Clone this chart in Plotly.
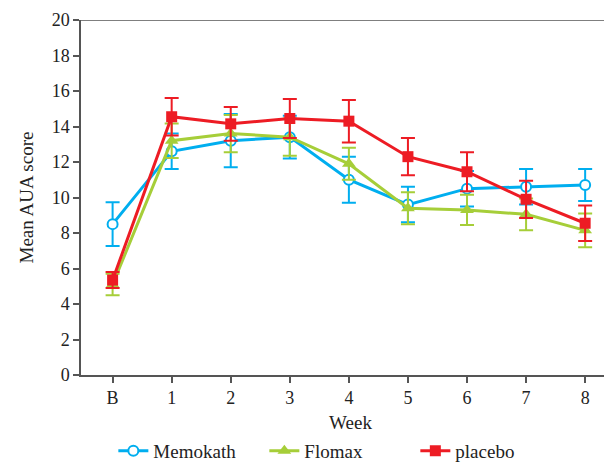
import plotly.graph_objects as go

weeks = ["B", "1", "2", "3", "4", "5", "6", "7", "8"]
xpos = list(range(len(weeks)))

memokath = [8.5, 12.6, 13.2, 13.4, 11.0, 9.6, 10.5, 10.6, 10.7]
memokath_err = [1.23, 1.0, 1.5, 1.2, 1.3, 1.0, 1.0, 1.0, 0.9]

flomax = [5.1, 13.2, 13.6, 13.4, 11.9, 9.4, 9.3, 9.05, 8.15]
flomax_err = [0.6, 0.97, 1.05, 1.05, 0.9, 0.9, 0.85, 0.9, 0.95]

placebo = [5.35, 14.55, 14.15, 14.45, 14.3, 12.3, 11.45, 9.9, 8.55]
placebo_err = [0.45, 1.05, 0.95, 1.1, 1.2, 1.05, 1.1, 1.05, 1.0]

BLUE = "#00AEEF"
GREEN = "#A6CE39"
RED = "#ED1C24"
FONT = "Liberation Serif"

fig = go.Figure()

fig.add_trace(go.Scatter(
    x=xpos, y=memokath, name="Memokath", mode="lines+markers",
    line=dict(color=BLUE, width=3),
    marker=dict(symbol="circle", size=10, color="white", line=dict(color=BLUE, width=2)),
    error_y=dict(type="data", array=memokath_err, color=BLUE, thickness=2, width=7),
))
fig.add_trace(go.Scatter(
    x=xpos, y=flomax, name="Flomax", mode="lines+markers",
    line=dict(color=GREEN, width=3),
    marker=dict(symbol="triangle-up", size=12, color=GREEN),
    error_y=dict(type="data", array=flomax_err, color=GREEN, thickness=2, width=7),
))
fig.add_trace(go.Scatter(
    x=xpos, y=placebo, name="placebo", mode="lines+markers",
    line=dict(color=RED, width=3),
    marker=dict(symbol="square", size=11, color=RED),
    error_y=dict(type="data", array=placebo_err, color=RED, thickness=2, width=7),
))

fig.add_shape(type="line", xref="paper", yref="y", x0=0, x1=1, y0=20, y1=20,
              line=dict(color="#555555", width=1.5), layer="below")

fig.update_layout(
    width=612, height=463,
    margin=dict(l=73, r=0, t=12, b=96, autoexpand=False),
    paper_bgcolor="white", plot_bgcolor="white",
    font=dict(family=FONT, size=18, color="#222222"),
    showlegend=True,
    legend=dict(orientation="h", x=0.06, xanchor="left", y=-0.16, yanchor="top",
                entrywidth=106, entrywidthmode="pixels", itemwidth=30,
                font=dict(family=FONT, size=19, color="#222222"),
                bgcolor="rgba(0,0,0,0)"),
    xaxis=dict(range=[-0.535, 8.59], tickmode="array", tickvals=xpos, ticktext=weeks,
               showgrid=False, zeroline=False, showline=True, linecolor="#555555", linewidth=1.5,
               ticks="outside", ticklen=6, tickwidth=1.5, tickcolor="#555555", automargin=False,
               title=dict(text="Week", font=dict(family=FONT, size=19), standoff=8),
               tickfont=dict(family=FONT, size=18)),
    yaxis=dict(range=[0, 20], tickmode="array", tickvals=list(range(0, 21, 2)),
               showgrid=False, zeroline=False, showline=True, linecolor="#555555", linewidth=1.5,
               ticks="outside", ticklen=6, tickwidth=1.5, tickcolor="#555555", automargin=False,
               title=dict(text="Mean AUA score", font=dict(family=FONT, size=19), standoff=13),
               tickfont=dict(family=FONT, size=18)),
)

fig.write_html("out.html")
